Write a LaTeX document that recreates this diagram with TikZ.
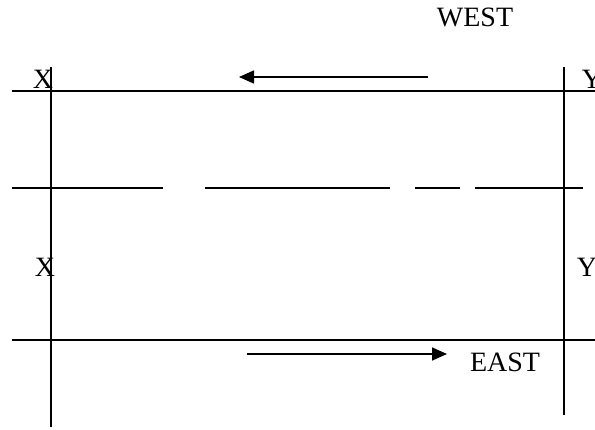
\documentclass[tikz,border=0pt]{standalone}
\usepackage{fontspec}
\setmainfont{Liberation Serif}
\usetikzlibrary{arrows.meta}

\begin{document}
\begin{tikzpicture}[
		x=1pt, y=-1pt,
		every node/.style={inner sep=0pt, font=\fontsize{28}{30}\selectfont},
		road/.style={line width=1.4pt},
		arrow/.style={line width=1.6pt, -{Triangle[length=15pt, width=13pt]}}
	]
	\useasboundingbox (0,0) rectangle (595,429);

		% Nodes
		\node (west) at (475,17) {WEST};
		\node (east) at (505,362) {EAST};
		\node (xtop) at (43,79) {X};
		\node (ytop) at (592,79) {Y};
		\node (xmid) at (45,267) {X};
		\node (ymid) at (587,267) {Y};

		% Line ends
		\coordinate (topL) at (12,91);
		\coordinate (topR) at (595,91);
		\coordinate (botL) at (12,340);
		\coordinate (botR) at (595,340);
		\coordinate (leftT) at (51,67);
		\coordinate (leftB) at (51,427);
		\coordinate (rightT) at (564,67);
		\coordinate (rightB) at (564,415);
		\coordinate (wS) at (428,77);
		\coordinate (wE) at (239,77);
		\coordinate (eS) at (247,354);
		\coordinate (eE) at (447,354);

		% Roads
		\draw[road] (topL) -- (topR);
		\draw[road] (botL) -- (botR);
		\draw[road] (leftT) -- (leftB);
		\draw[road] (rightT) -- (rightB);

		% Centre line
		\draw[road] (12,188) -- (163,188);
		\draw[road] (205,188) -- (390,188);
		\draw[road] (415,188) -- (460,188);
		\draw[road] (475,188) -- (583,188);

		% Arrows
		\draw[arrow] (wS) -- (wE);
		\draw[arrow] (eS) -- (eE);

	\end{tikzpicture}
\end{document}
